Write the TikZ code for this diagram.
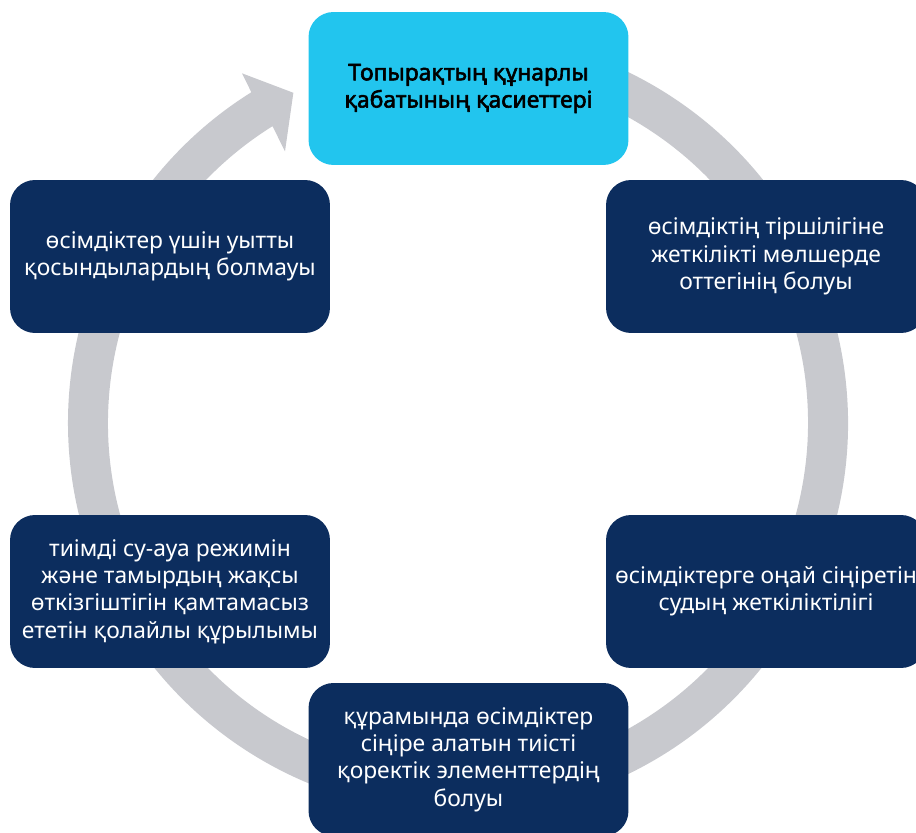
\documentclass[tikz,border=0pt]{standalone}
\usepackage{fontspec}
\setmainfont{Noto Sans}
\newfontfamily\headfont{Noto Sans}[FakeBold=2.5]
\usepackage{xcolor}
\usetikzlibrary{calc}
\definecolor{navy}{RGB}{12,45,94}
\definecolor{skyblue}{RGB}{34,197,238}
\definecolor{ringgray}{RGB}{200,201,206}
\tikzset{
	cyclebox/.style={rectangle, rounded corners=0.5cm, minimum width=6.4cm,
		minimum height=3.06cm, align=center, inner sep=2pt,
		font=\fontsize{13}{15.5}\selectfont},
	darkbox/.style={cyclebox, fill=navy, text=white},
	headbox/.style={cyclebox, fill=skyblue, text=black,
		font=\fontsize{13}{15.5}\headfont}
}

\begin{document}
\begin{tikzpicture}[x=0.02cm, y=0.02cm, line cap=round, line join=round]
				\useasboundingbox (0,0) rectangle (916,832);
				\clip (0,0) rectangle (916,832);
				\coordinate (c) at (458,409);
				\fill[ringgray] ($(c)+(100:390)$) arc[start angle=100, end angle=-238, radius=390]
					-- ($(c)+(-238.3:411)$) -- ($(c)+(-243.5:369)$) -- ($(c)+(-237.5:322)$)
					-- ($(c)+(-238:350)$) arc[start angle=-238, end angle=100, radius=350] -- cycle;
				\node[headbox] (top) at (468.5,743.5) {Топырақтың құнарлы\\қабатының қасиеттері};
				\node[darkbox] (oxygen) at (766,575.5) {өсімдіктің тіршілігіне\\жеткілікті мөлшерде\\оттегінің болуы};
				\node[darkbox] (water) at (766,240.5) {өсімдіктерге оңай сіңіретін\\судың жеткіліктілігі};
				\node[darkbox] (food) at (468.5,72.5) {құрамында өсімдіктер\\сіңіре алатын тиісті\\қоректік элементтердің\\болуы};
				\node[darkbox] (struct) at (170,240.5) {тиімді су-ауа режимін\\және тамырдың жақсы\\өткізгіштігін қамтамасыз\\ететін қолайлы құрылымы};
				\node[darkbox] (toxic) at (170,575.5) {өсімдіктер үшін уытты\\қосындылардың болмауы};
			\end{tikzpicture}
\end{document}
